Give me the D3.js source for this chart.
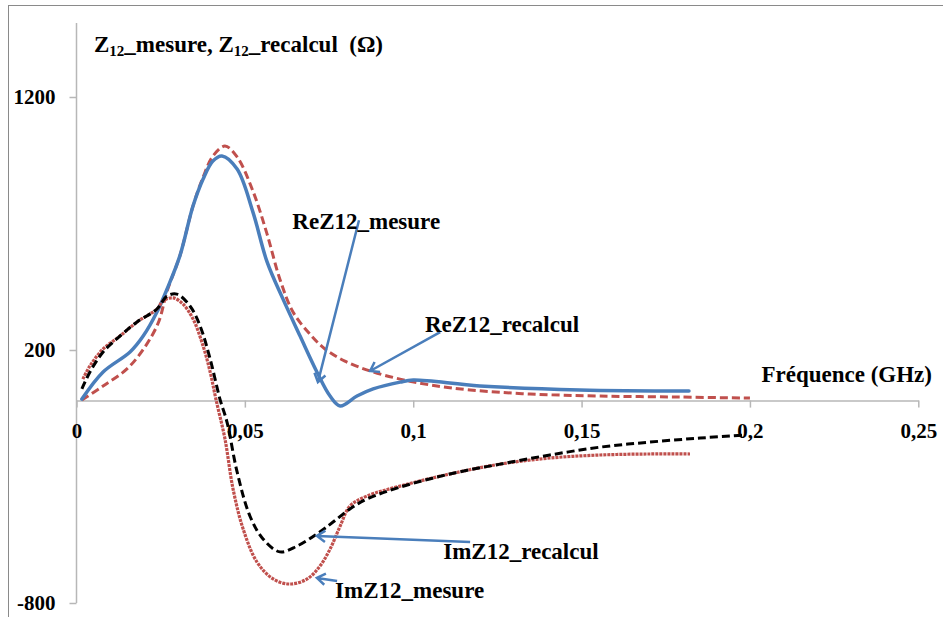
<!DOCTYPE html>
<html><head><meta charset="utf-8">
<script src="https://cdn.jsdelivr.net/npm/d3@7"></script>
<style>body{margin:0;background:#fff}svg{display:block}svg text{font-family:"Liberation Serif","Times New Roman","DejaVu Serif",serif !important;font-weight:bold;fill:#000}</style>
</head><body>
<script>
// ---- data (frequency in GHz, impedance in ohms) ----
const reMesureF = [0.0016,0.0079,0.0159,0.0198,0.0239,0.0269,0.0307,0.0346,0.0376,0.0405,0.0432,0.0477,0.0524,0.0566,0.0613,0.0664,0.0714,0.0753,0.0783,0.0833,0.0881,0.0961,0.1000,0.1198,0.1495,0.1819];
const reMesureV = [6,113,192,255,350,441,572,769,876,947,967,915,745,548,402,255,113,18,-21,18,46,73,81,58,42,38];

const reRecalculF = [0.0016,0.0079,0.0159,0.0239,0.0269,0.0307,0.0346,0.0376,0.0405,0.0441,0.0477,0.0524,0.0566,0.0604,0.0643,0.0693,0.0738,0.0797,0.0872,0.0961,0.1050,0.1169,0.1347,0.1555,0.1792,0.2000];
const reRecalculV = [2,58,137,295,433,572,769,883,966,1006,963,828,658,480,350,263,204,156,117,85,62,42,26,18,14,10];

const imMesureF = [0.0019,0.0040,0.0079,0.0129,0.0180,0.0239,0.0257,0.0287,0.0316,0.0346,0.0376,0.0397,0.0414,0.0441,0.0465,0.0495,0.0536,0.0584,0.0634,0.0685,0.0723,0.0753,0.0783,0.0812,0.0863,0.0961,0.1109,0.1258,0.1406,0.1555,0.1703,0.1822];
const imMesureV = [85,137,204,255,311,362,394,406,382,323,216,113,6,-152,-350,-508,-638,-705,-725,-705,-654,-587,-496,-417,-377,-338,-290,-251,-227,-215,-211,-211];

const imRecalculF = [0.0016,0.0040,0.0079,0.0129,0.0180,0.0239,0.0269,0.0298,0.0337,0.0367,0.0397,0.0426,0.0447,0.0477,0.0515,0.0554,0.0604,0.0655,0.0714,0.0762,0.0812,0.0863,0.0961,0.1109,0.1258,0.1406,0.1555,0.1703,0.1852,0.1985];
const imRecalculV = [46,113,192,255,311,362,413,421,374,295,164,6,-85,-282,-456,-547,-598,-575,-527,-480,-428,-389,-342,-290,-251,-215,-184,-164,-148,-136];

const xTickValues = [0,0.05,0.1,0.15,0.2,0.25];
const xTickLabels = ["0","0,05","0,1","0,15","0,2","0,25"];
const yTickValues = [-800,200,1200];
const yTickLabels = ["-800","200","1200"];

const annotationNames = ["ReZ12_mesure","ReZ12_recalcul","ImZ12_recalcul","ImZ12_mesure"];
const annotationTextF = [0.0641,0.1035,0.1089,0.0768];
const annotationTextV = [678,271,-626,-780];
const arrowFromF = [0.0839,0.1080,0.1169,0.0774];
const arrowFromV = [713,271,-559,-713];
const arrowToF = [0.0717,0.0872,0.0714,0.0714];
const arrowToV = [73,117,-535,-701];

// ---- layout ----
const FONT = "'Liberation Serif','Times New Roman','DejaVu Serif',serif";
const W = 943, H = 617;
const svg = d3.select("body").append("svg").attr("width",W).attr("height",H)
  .attr("font-family",FONT).attr("font-weight","bold");
const x = d3.scaleLinear().domain([0,0.25]).range([76.5,918.3]);
const y = d3.scaleLinear().domain([-800,1200]).range([603,97]);

// outer frame (left & top visible)
svg.append("rect").attr("x",8.5).attr("y",5.5).attr("width",1000).attr("height",700)
  .attr("fill","none").attr("stroke","#8a8a8a").attr("stroke-width",1);

const axisColor = "#b7b7b7";
// y axis
const yAxis = svg.append("g").attr("transform",`translate(${x(0)},0)`)
  .call(d3.axisLeft(y).tickValues(yTickValues).tickSize(7).tickSizeOuter(0).tickPadding(14)
    .tickFormat((d,i)=>yTickLabels[i]));
yAxis.attr("font-family",FONT).attr("font-size",null);
yAxis.select(".domain").remove();
yAxis.selectAll(".tick line").attr("stroke",axisColor).attr("stroke-width",1.5);
yAxis.selectAll(".tick text").style("font-size","21px").attr("fill","#000");
svg.append("line").attr("x1",x(0)).attr("x2",x(0)).attr("y1",y(y.invert(23))).attr("y2",y(-800))
  .attr("stroke",axisColor).attr("stroke-width",1.5);

// x axis at zero
const xAxis = svg.append("g").attr("transform",`translate(0,${y(0)})`)
  .call(d3.axisBottom(x).tickValues(xTickValues).tickSize(7).tickSizeOuter(0).tickPadding(15)
    .tickFormat((d,i)=>xTickLabels[i]));
xAxis.attr("font-family",FONT).attr("font-size",null);
xAxis.select(".domain").attr("stroke",axisColor).attr("stroke-width",1.5);
xAxis.selectAll(".tick line").attr("stroke",axisColor).attr("stroke-width",1.5);
xAxis.selectAll(".tick text").style("font-size","21px").attr("fill","#000");

// titles
const t = svg.append("text").attr("x",94).attr("y",52).style("font-size","23px");
t.append("tspan").text("Z");
t.append("tspan").text("12").style("font-size","15px").attr("dy",4);
t.append("tspan").text("_mesure, Z").attr("dy",-4);
t.append("tspan").text("12").style("font-size","15px").attr("dy",4);
t.append("tspan").text("_recalcul\u00a0 (\u03a9)").attr("dy",-4);

svg.append("text").attr("x",932).attr("y",382).attr("text-anchor","end").style("font-size","23px").text("Fréquence (GHz)");

// series
const line = (F,V) => d3.line().curve(d3.curveCatmullRom.alpha(0.5))
  .x((d,i)=>x(F[i])).y((d,i)=>y(V[i]))(F);

svg.append("path").attr("d",line(reRecalculF,reRecalculV)).attr("fill","none")
  .attr("stroke","#c0504d").attr("stroke-width",3).attr("stroke-dasharray","8,4");
svg.append("path").attr("d",line(reMesureF,reMesureV)).attr("fill","none")
  .attr("stroke","#4a7ebb").attr("stroke-width",3.5).attr("stroke-linecap","round");
svg.append("path").attr("d",line(imMesureF,imMesureV)).attr("fill","none")
  .attr("stroke","#c0504d").attr("stroke-width",3.2).attr("stroke-dasharray","3,1");
svg.append("path").attr("d",line(imRecalculF,imRecalculV)).attr("fill","none")
  .attr("stroke","#000").attr("stroke-width",3).attr("stroke-dasharray","8,4");

// annotations
annotationNames.forEach((name,i)=>{
  const x1 = x(arrowFromF[i]), y1 = y(arrowFromV[i]);
  const x2 = x(arrowToF[i]), y2 = y(arrowToV[i]);
  const a = Math.atan2(y2-y1,x2-x1), L = 10, s = 0.6;
  const h1 = [x2 - L*Math.cos(a-s), y2 - L*Math.sin(a-s)];
  const h2 = [x2 - L*Math.cos(a+s), y2 - L*Math.sin(a+s)];
  svg.append("path").attr("d",`M${x1},${y1}L${x2},${y2}M${h1[0]},${h1[1]}L${x2},${y2}L${h2[0]},${h2[1]}`)
    .attr("fill","none").attr("stroke","#4a7ebb").attr("stroke-width",2.5).attr("stroke-linejoin","miter");
  svg.append("text").attr("x",x(annotationTextF[i])).attr("y",y(annotationTextV[i]))
    .style("font-size","23px").text(name);
});
</script>
</body></html>
